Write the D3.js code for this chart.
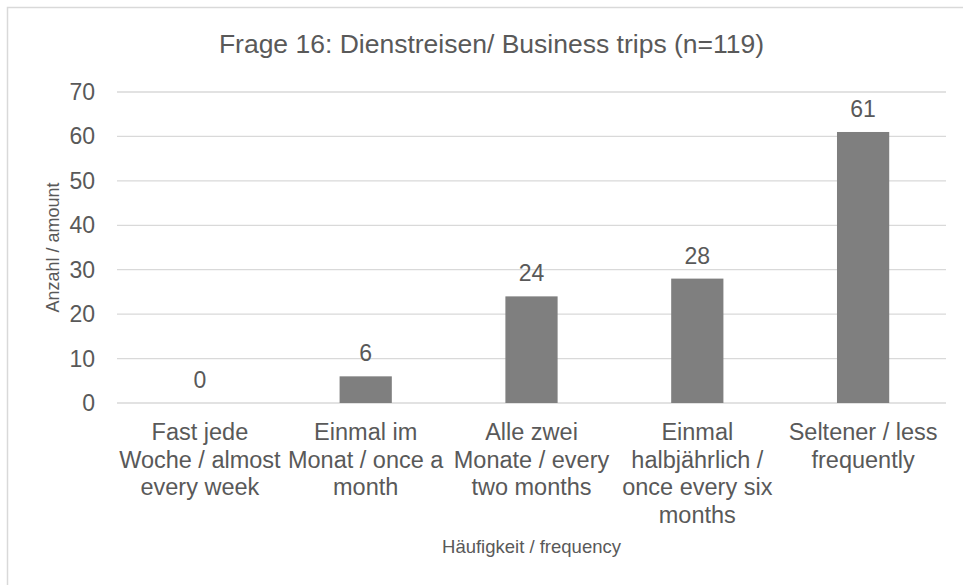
<!DOCTYPE html>
<html lang="de">
<head>
<meta charset="utf-8" />
<script src="https://cdn.jsdelivr.net/npm/d3@7"></script>
<style>
  body { margin: 0; background: #fff; }
  svg text { font-family: "Liberation Sans", Arial, sans-serif; fill: #595959; }
</style>
</head>
<body>
<div id="chart"></div>
<script>
// data
var categories = [
  "Fast jede Woche / almost every week",
  "Einmal im Monat / once a month",
  "Alle zwei Monate / every two months",
  "Einmal halbjährlich / once every six months",
  "Seltener / less frequently"
];
var categoryLines = [
  ["Fast jede", "Woche / almost", "every week"],
  ["Einmal im", "Monat / once a", "month"],
  ["Alle zwei", "Monate / every", "two months"],
  ["Einmal", "halbjährlich /", "once every six", "months"],
  ["Seltener / less", "frequently"]
];
var counts = [0, 6, 24, 28, 61];
var yTicks = [0, 10, 20, 30, 40, 50, 60, 70];

var title = "Frage 16: Dienstreisen/ Business trips (n=119)";
var xTitle = "Häufigkeit / frequency";
var yTitle = "Anzahl / amount";

var width = 963, height = 585;
var plotLeft = 117, plotRight = 946, plotTop = 92, plotBottom = 403;

var svg = d3.select('#chart')
  .append('svg')
  .attr('width', width)
  .attr('height', height);

// chart frame (runs past the window on right and bottom)
svg.append('rect')
  .attr('x', 7.5).attr('y', 7.5)
  .attr('width', 1000).attr('height', 1000)
  .attr('fill', '#fff')
  .attr('stroke', '#d9d9d9')
  .attr('stroke-width', 1.5);

var x = d3.scaleBand()
  .domain(categories)
  .range([plotLeft, plotRight])
  .padding(0);

var y = d3.scaleLinear()
  .domain([0, 70])
  .range([plotBottom, plotTop]);

var barW = x.bandwidth() * 0.315;

// gridlines
svg.append('g')
  .selectAll('line')
  .data(yTicks)
  .enter()
  .append('line')
  .attr('x1', plotLeft).attr('x2', plotRight)
  .attr('y1', function(d) { return y(d); })
  .attr('y2', function(d) { return y(d); })
  .attr('stroke', '#d9d9d9')
  .attr('stroke-width', 1.3);

// y tick labels
svg.append('g')
  .selectAll('text')
  .data(yTicks)
  .enter()
  .append('text')
  .attr('x', plotLeft - 22)
  .attr('y', function(d) { return y(d); })
  .attr('dy', '0.35em')
  .attr('text-anchor', 'end')
  .style('font-size', '23px')
  .text(function(d) { return d; });

// bars
svg.append('g')
  .selectAll('rect')
  .data(counts)
  .enter()
  .append('rect')
  .attr('x', function(d, i) { return x(categories[i]) + x.bandwidth() / 2 - barW / 2; })
  .attr('y', function(d) { return y(d); })
  .attr('width', barW)
  .attr('height', function(d) { return y(0) - y(d); })
  .attr('fill', '#7f7f7f');

// value labels
svg.append('g')
  .selectAll('text')
  .data(counts)
  .enter()
  .append('text')
  .attr('x', function(d, i) { return x(categories[i]) + x.bandwidth() / 2; })
  .attr('y', function(d) { return y(d) - 15; })
  .attr('text-anchor', 'middle')
  .style('font-size', '23px')
  .text(function(d) { return d; });

// category labels
var cat = svg.append('g')
  .selectAll('text')
  .data(categories)
  .enter()
  .append('text')
  .attr('text-anchor', 'middle')
  .style('font-size', '23.5px');

cat.each(function(d, i) {
  var t = d3.select(this);
  categoryLines[i].forEach(function(line, j) {
    t.append('tspan')
      .attr('x', x(d) + x.bandwidth() / 2)
      .attr('y', 440 + j * 27.6)
      .text(line);
  });
});

// title
svg.append('text')
  .attr('x', (plotLeft + plotRight) / 2 - 40)
  .attr('y', 53)
  .attr('text-anchor', 'middle')
  .style('font-size', '26.5px')
  .text(title);

// axis titles
svg.append('text')
  .attr('x', (plotLeft + plotRight) / 2)
  .attr('y', 553)
  .attr('text-anchor', 'middle')
  .style('font-size', '18.5px')
  .text(xTitle);

svg.append('text')
  .attr('transform', 'translate(59,' + ((plotTop + plotBottom) / 2) + ') rotate(-90)')
  .attr('text-anchor', 'middle')
  .style('font-size', '18px')
  .text(yTitle);
</script>
</body>
</html>
